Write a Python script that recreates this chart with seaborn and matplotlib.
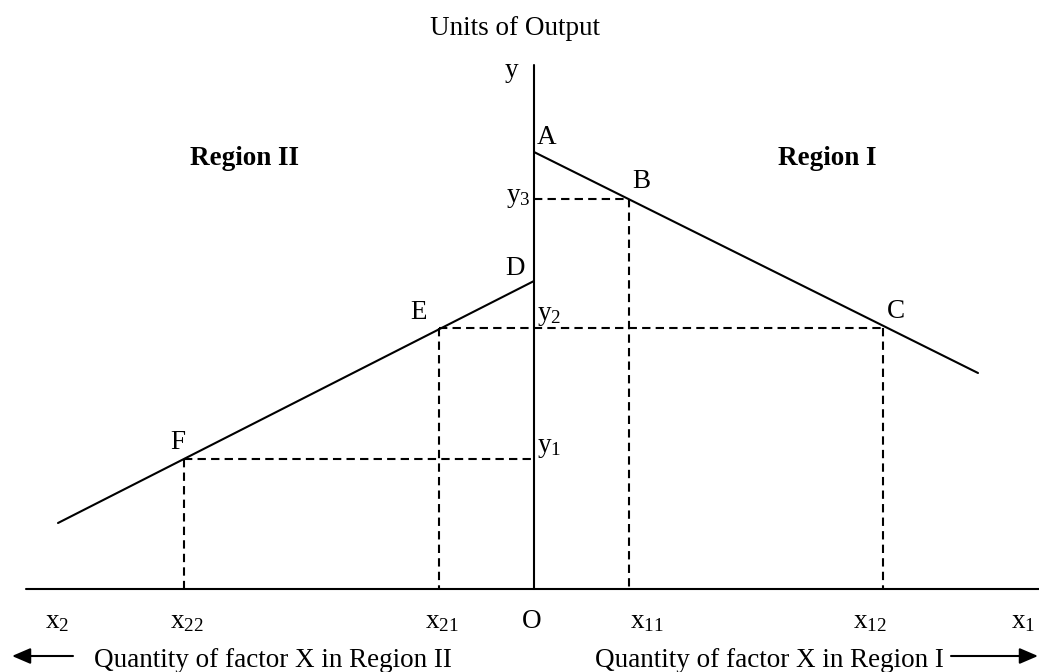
import matplotlib

matplotlib.use("Agg")
import matplotlib.pyplot as plt
import pandas as pd
import seaborn as sns

sns.set_theme(style="white")
plt.rcParams["font.family"] = ["Liberation Serif", "DejaVu Serif"]
plt.rcParams["mathtext.fontset"] = "custom"
plt.rcParams["mathtext.rm"] = "Liberation Serif"
plt.rcParams["mathtext.it"] = "Liberation Serif:italic"

# marginal product schedules (x: factor quantity, y: units of output)
region1_x = [0, 444]
region1_y = [437, 216]
region2_x = [0, -476]
region2_y = [308, 66]

# points on the schedules
point_names = ["B", "C", "E", "F"]
point_x = [95, 349, -95, -350]
point_y = [390, 261, 261, 130]

tick_names = ["$\\mathrm{x}_{2}$", "$\\mathrm{x}_{22}$", "$\\mathrm{x}_{21}$", "O",
              "$\\mathrm{x}_{11}$", "$\\mathrm{x}_{12}$", "$\\mathrm{x}_{1}$"]
tick_pos = [-477, -347, -92, -2, 113, 336, 489]

FS = 19.5
LW = 1.5

fig = plt.figure(figsize=(10.39, 6.72), dpi=100)
ax = fig.add_axes([0, 0, 1, 1])
ax.axis("off")

# axes
ax.plot([-508, 505], [0, 0], color="black", lw=LW)
ax.plot([0, 0], [0, 524], color="black", lw=LW)

df1 = pd.DataFrame({"x": region1_x, "y": region1_y})
df2 = pd.DataFrame({"x": region2_x, "y": region2_y})
sns.lineplot(data=df1, x="x", y="y", sort=False, color="black", lw=LW, ax=ax)
sns.lineplot(data=df2, x="x", y="y", sort=False, color="black", lw=LW, ax=ax)
ax.set_xlim(-534, 505)
ax.set_ylim(-83, 589)

# dashed guides
dash = dict(color="black", lw=LW, ls=(0, (4, 2.5)))
bx, cx, ex, fx = point_x
by, cy, ey, fy = point_y
ax.plot([0, bx], [by, by], **dash)
ax.plot([bx, bx], [by, 0], **dash)
ax.plot([ex, cx], [cy, cy], **dash)
ax.plot([cx, cx], [cy, 0], **dash)
ax.plot([ex, ex], [ey, 0], **dash)
ax.plot([fx, 0], [fy, fy], **dash)
ax.plot([fx, fx], [fy, 0], **dash)

txt = dict(fontsize=FS, color="black", va="baseline")
ax.text(-19, 554, "Units of Output", ha="center", **txt)
ax.text(-23, 512, "y", ha="center", **txt)
ax.text(13, 445, "A", ha="center", **txt)
ax.text(-19, 314, "D", ha="center", **txt)
label_off = {"B": (12, 11), "C": (13, 10), "E": (-20, 9), "F": (-6, 10)}
for n, px, py in zip(point_names, point_x, point_y):
    dx, dy = label_off[n]
    ax.text(px + dx, py + dy, n, ha="center", **txt)
ax.text(-3, 387, "$\\mathrm{y}_{3}$", ha="right", **txt)
ax.text(3, 269, "$\\mathrm{y}_{2}$", ha="left", **txt)
ax.text(3, 137, "$\\mathrm{y}_{1}$", ha="left", **txt)
ax.text(-290, 424, "Region II", ha="center", fontweight="bold", **txt)
ax.text(343, 424, "Region I", ha="right", fontweight="bold", **txt)

for name, pos in zip(tick_names, tick_pos):
    ax.text(pos, -39, name, ha="center", **txt)

ax.text(-440, -78, "Quantity of factor X in Region II", ha="left", **txt)
ax.text(410, -78, "Quantity of factor X in Region I", ha="right", **txt)
arrow = dict(arrowstyle="-|>,head_length=0.7,head_width=0.3", color="black",
             lw=LW, mutation_scale=16, shrinkA=0, shrinkB=0)
ax.annotate("", xy=(-522, -67), xytext=(-461, -67), arrowprops=arrow)
ax.annotate("", xy=(504, -67), xytext=(417, -67), arrowprops=arrow)

fig.savefig("out.png", dpi=100)
